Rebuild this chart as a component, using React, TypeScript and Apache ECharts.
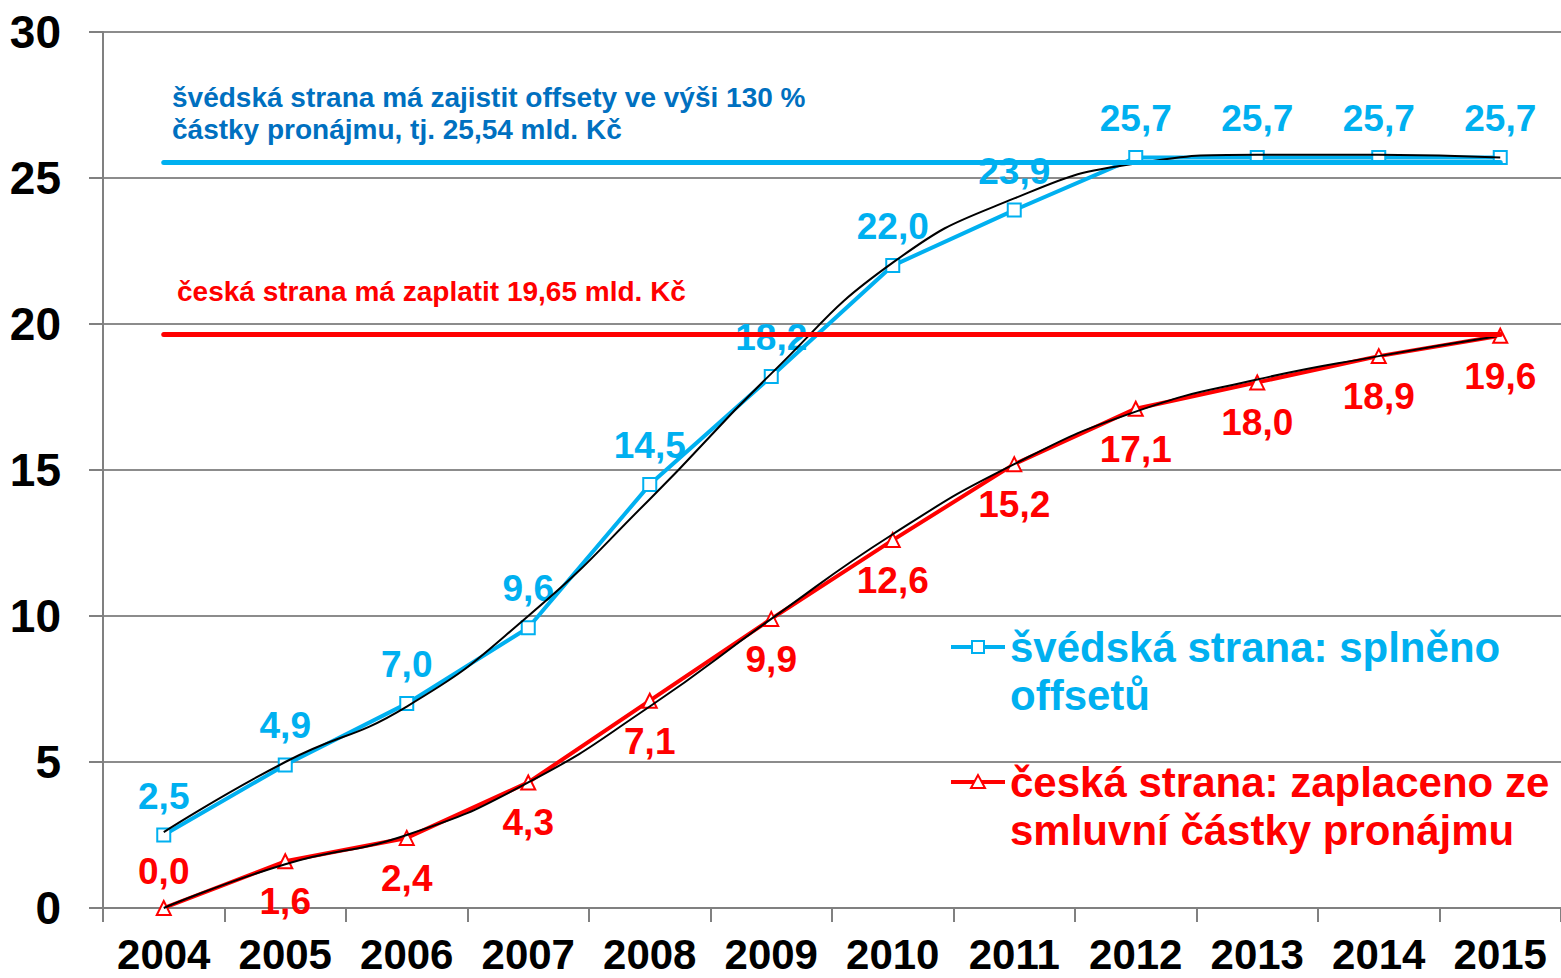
import React, { useEffect, useRef } from "react";
import * as echarts from "echarts";

const years = ["2004", "2005", "2006", "2007", "2008", "2009", "2010", "2011", "2012", "2013", "2014", "2015"];
const swedishOffsets = [2.5, 4.9, 7.0, 9.6, 14.5, 18.2, 22.0, 23.9, 25.7, 25.7, 25.7, 25.7];
const czechPaid = [0.0, 1.6, 2.4, 4.3, 7.1, 9.9, 12.6, 15.2, 17.1, 18.0, 18.9, 19.6];
const swedishTrend = [2.6, 5.0, 6.9, 10.0, 14.0, 18.3, 22.1, 24.3, 25.5, 25.8, 25.8, 25.7];
const czechTrend = [0.0, 1.5, 2.5, 4.3, 6.9, 9.9, 12.8, 15.2, 17.0, 18.1, 18.9, 19.6];
const swedishTarget = 25.54;
const czechTarget = 19.65;

const BLUE = "#00B0F0";
const DARKBLUE = "#0070C0";
const RED = "#FF0000";
const FONT = "'Liberation Sans', Arial, sans-serif";

const fmt = (p: any) => Number(p.value).toFixed(1).replace(".", ",");

export default function App() {
  const ref = useRef<HTMLDivElement>(null);
  useEffect(() => {
    document.body.style.margin = "0";
    const chart = echarts.init(ref.current!, null, { renderer: "svg" });
    chart.setOption({
      animation: false,
      textStyle: { fontFamily: FONT },
      grid: { left: 103, right: 0, top: 32, bottom: 70 },
      xAxis: {
        type: "category",
        data: years,
        boundaryGap: true,
        axisLine: { lineStyle: { color: "#808080", width: 2 } },
        axisTick: { show: true, length: 14, lineStyle: { color: "#808080", width: 2 } },
        axisLabel: { color: "#000", fontSize: 42, fontWeight: "bold", margin: 25, fontFamily: FONT },
      },
      yAxis: {
        type: "value",
        min: 0,
        max: 30,
        interval: 5,
        axisLine: { show: true, lineStyle: { color: "#808080", width: 2 } },
        axisTick: { show: true, length: 14, lineStyle: { color: "#808080", width: 2 } },
        splitLine: { lineStyle: { color: "#8C8C8C", width: 2 } },
        axisLabel: { color: "#000", fontSize: 46, fontWeight: "bold", margin: 42, fontFamily: FONT },
      },
      series: [
        {
          type: "line",
          name: "švédská strana: splněno offsetů",
          data: swedishOffsets,
          z: 3,
          lineStyle: { color: BLUE, width: 4 },
          itemStyle: { color: "#fff", borderColor: BLUE, borderWidth: 2 },
          symbol: "rect",
          symbolSize: 13,
          label: {
            show: true,
            position: "top",
            distance: 13,
            formatter: fmt,
            color: BLUE,
            fontSize: 37,
            fontWeight: "bold",
            fontFamily: FONT,
          },
          markLine: {
            silent: true,
            symbol: "none",
            label: { show: false },
            lineStyle: { color: BLUE, width: 5, type: "solid", cap: "round" },
            data: [[{ coord: [years[0], swedishTarget] }, { coord: [years[years.length - 1], swedishTarget] }]],
          },
        },
        {
          type: "line",
          name: "česká strana: zaplaceno ze smluvní částky pronájmu",
          data: czechPaid.map((v, i) =>
            i === 0
              ? { value: v, label: { position: "top", distance: 10 } }
              : { value: v }
          ),
          z: 3,
          lineStyle: { color: RED, width: 4 },
          itemStyle: { color: "#fff", borderColor: RED, borderWidth: 2 },
          symbol: "triangle",
          symbolSize: 14,
          label: {
            show: true,
            position: "bottom",
            distance: 14,
            formatter: fmt,
            color: RED,
            fontSize: 37,
            fontWeight: "bold",
            fontFamily: FONT,
          },
          markLine: {
            silent: true,
            symbol: "none",
            label: { show: false },
            lineStyle: { color: RED, width: 5, type: "solid", cap: "round" },
            data: [[{ coord: [years[0], czechTarget] }, { coord: [years[years.length - 1], czechTarget] }]],
          },
        },
        {
          type: "line",
          name: "trend švédská",
          data: swedishTrend,
          smooth: 0.5,
          z: 4,
          symbol: "none",
          lineStyle: { color: "#000", width: 2 },
        },
        {
          type: "line",
          name: "trend česká",
          data: czechTrend,
          smooth: 0.5,
          z: 4,
          symbol: "none",
          lineStyle: { color: "#000", width: 2 },
        },
      ],
      graphic: [
        {
          type: "text",
          left: 172,
          top: 81,
          style: {
            text: "švédská strana má zajistit offsety ve výši 130 %\nčástky pronájmu, tj. 25,54 mld. Kč",
            fill: DARKBLUE,
            font: `bold 28px ${FONT}`,
            lineHeight: 32,
          },
        },
        {
          type: "text",
          left: 177,
          top: 275,
          style: {
            text: "česká strana má zaplatit 19,65 mld. Kč",
            fill: RED,
            font: `bold 28px ${FONT}`,
            lineHeight: 32,
          },
        },
        { type: "line", shape: { x1: 951, y1: 647, x2: 1005, y2: 647 }, style: { stroke: BLUE, lineWidth: 4 } },
        { type: "rect", shape: { x: 972, y: 641, width: 12, height: 12 }, style: { fill: "#fff", stroke: BLUE, lineWidth: 2 } },
        {
          type: "text",
          left: 1010,
          top: 623,
          style: {
            text: "švédská strana: splněno\noffsetů",
            fill: BLUE,
            font: `bold 42px ${FONT}`,
            lineHeight: 48,
          },
        },
        { type: "line", shape: { x1: 951, y1: 782, x2: 1005, y2: 782 }, style: { stroke: RED, lineWidth: 4 } },
        {
          type: "polygon",
          shape: { points: [[978, 775], [971, 788], [985, 788]] },
          style: { fill: "#fff", stroke: RED, lineWidth: 2 },
        },
        {
          type: "text",
          left: 1010,
          top: 758,
          style: {
            text: "česká strana: zaplaceno ze\nsmluvní částky pronájmu",
            fill: RED,
            font: `bold 42px ${FONT}`,
            lineHeight: 48,
          },
        },
      ],
    });
    return () => chart.dispose();
  }, []);
  return <div ref={ref} style={{ width: 1561, height: 978 }} />;
}
